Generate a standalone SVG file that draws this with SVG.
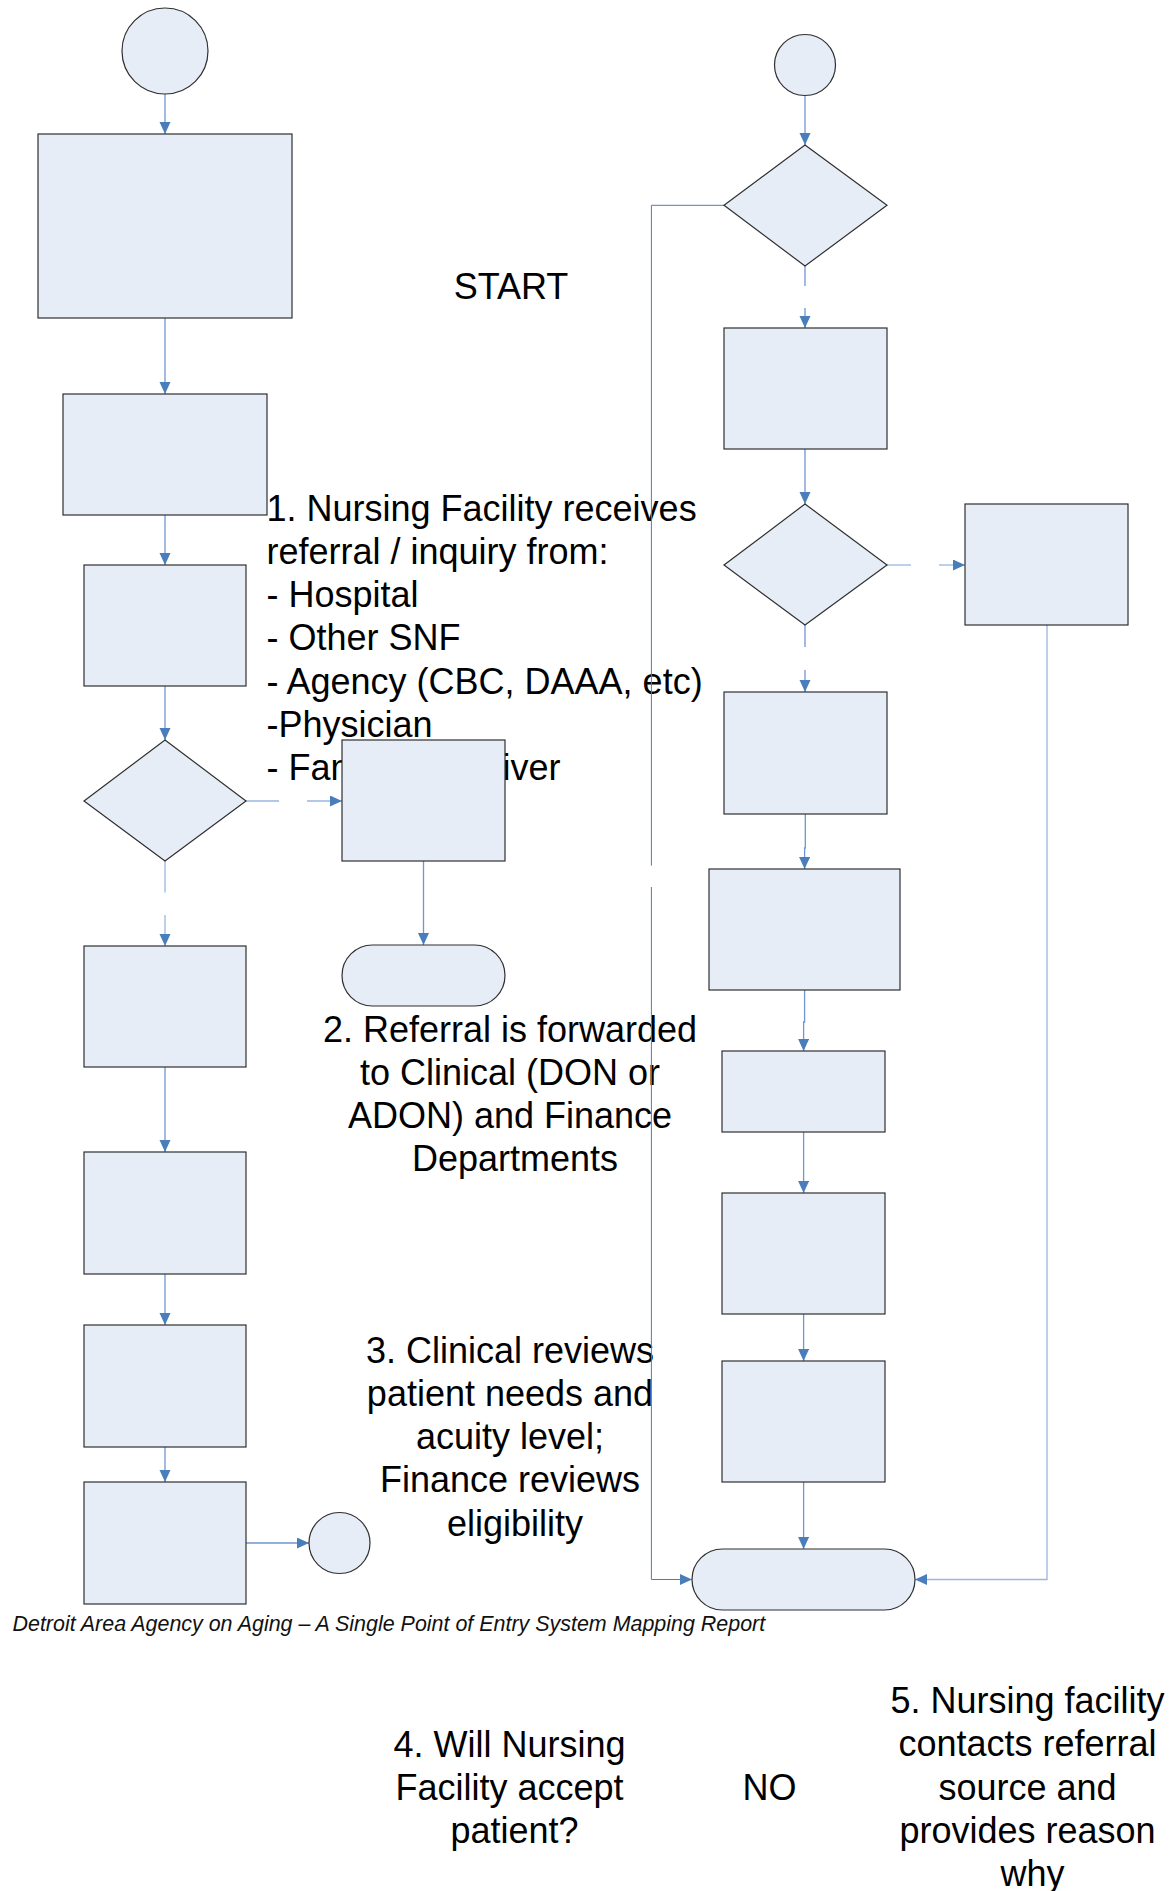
<svg xmlns="http://www.w3.org/2000/svg" width="1172" height="1891" viewBox="0 0 1172 1891">
  <defs>
    <marker id="arrow" markerUnits="userSpaceOnUse" markerWidth="12" markerHeight="12" refX="12" refY="5.5" orient="auto">
      <path d="M0,0 L12,5.5 L0,11 Z" fill="#4a7ebb"/>
    </marker>
    <style>
      .node { fill: #e7edf7; stroke: #2f2f2f; stroke-width: 1.2; }
      .conn { fill: none; stroke: #6f96d1; stroke-width: 1.3; }
      .conn-light { fill: none; stroke: #9ab6e0; stroke-width: 1.3; }
      .loop { fill: none; stroke: #4a7ebb; stroke-width: 1; }
      .lbl { font-family: "Liberation Sans", Arial, sans-serif; font-size: 36px; fill: #000; }
      .mid { text-anchor: middle; }
      .foot { font-family: "Liberation Sans", Arial, sans-serif; font-size: 21.45px; font-style: italic; fill: #111; }
    </style>
  </defs>
  <rect width="1172" height="1891" fill="#ffffff"/>

  <!-- step descriptions -->
  <g id="labels">
    <text class="lbl mid" x="511" y="299">START</text>
    <text class="lbl" x="266.5">
      <tspan x="266.5" y="520.5">1. Nursing Facility receives</tspan>
      <tspan x="266.5" y="563.75">referral / inquiry from:</tspan>
      <tspan x="266.5" y="607">- Hospital</tspan>
      <tspan x="266.5" y="650.25">- Other SNF</tspan>
      <tspan x="266.5" y="693.5">- Agency (CBC, DAAA, etc)</tspan>
      <tspan x="266.5" y="736.75">-Physician</tspan>
      <tspan x="266.5" y="780">- Family/Caregiver</tspan>
    </text>
    <text class="lbl mid">
      <tspan x="515" y="1042">2. Referral is forwarded</tspan>
      <tspan x="515" y="1085">to Clinical (DON or</tspan>
      <tspan x="515" y="1128">ADON) and Finance</tspan>
      <tspan x="515" y="1171">Departments</tspan>
    </text>
    <text class="lbl mid">
      <tspan x="515" y="1362.5">3. Clinical reviews</tspan>
      <tspan x="515" y="1405.75">patient needs and</tspan>
      <tspan x="515" y="1449">acuity level;</tspan>
      <tspan x="515" y="1492.25">Finance reviews</tspan>
      <tspan x="515" y="1535.5">eligibility</tspan>
    </text>
    <text class="foot" x="12.5" y="1631">Detroit Area Agency on Aging – A Single Point of Entry System Mapping Report</text>
    <text class="lbl mid">
      <tspan x="514.5" y="1756.5">4. Will Nursing</tspan>
      <tspan x="514.5" y="1799.75">Facility accept</tspan>
      <tspan x="514.5" y="1843">patient?</tspan>
    </text>
    <text class="lbl mid" x="769.5" y="1799.5">NO</text>
    <text class="lbl mid">
      <tspan x="1032.5" y="1713">5. Nursing facility</tspan>
      <tspan x="1032.5" y="1756.25">contacts referral</tspan>
      <tspan x="1032.5" y="1799.5">source and</tspan>
      <tspan x="1032.5" y="1842.75">provides reason</tspan>
      <tspan x="1032.5" y="1886">why</tspan>
    </text>
  </g>

  <!-- connectors -->
  <g id="connectors">
    <!-- left column -->
    <line class="conn" x1="165" y1="94" x2="165" y2="134" marker-end="url(#arrow)"/>
    <line class="conn" x1="165" y1="318" x2="165" y2="394" marker-end="url(#arrow)"/>
    <line class="conn" x1="165" y1="515" x2="165" y2="565" marker-end="url(#arrow)"/>
    <line class="conn" x1="165" y1="686" x2="165" y2="740" marker-end="url(#arrow)"/>
    <line class="conn-light" x1="246" y1="801" x2="279" y2="801"/>
    <line class="conn-light" x1="307" y1="801" x2="342" y2="801" marker-end="url(#arrow)"/>
    <line class="conn-light" x1="165" y1="861" x2="165" y2="892.5"/>
    <line class="conn-light" x1="165" y1="915" x2="165" y2="946" marker-end="url(#arrow)"/>
    <line class="conn" x1="423.5" y1="861" x2="423.5" y2="945" marker-end="url(#arrow)"/>
    <line class="conn" x1="165" y1="1067" x2="165" y2="1152" marker-end="url(#arrow)"/>
    <line class="conn" x1="165" y1="1274" x2="165" y2="1325" marker-end="url(#arrow)"/>
    <line class="conn" x1="165" y1="1447" x2="165" y2="1482" marker-end="url(#arrow)"/>
    <line class="conn" x1="246" y1="1543" x2="309" y2="1543" marker-end="url(#arrow)"/>
    <!-- right column -->
    <line class="conn" x1="805" y1="95.5" x2="805" y2="145" marker-end="url(#arrow)"/>
    <line class="conn" x1="805" y1="266" x2="805" y2="286"/>
    <line class="conn" x1="805" y1="308" x2="805" y2="328" marker-end="url(#arrow)"/>
    <line class="conn" x1="805" y1="449" x2="805" y2="504" marker-end="url(#arrow)"/>
    <line class="conn-light" x1="887" y1="565" x2="911" y2="565"/>
    <line class="conn-light" x1="939" y1="565" x2="965" y2="565" marker-end="url(#arrow)"/>
    <line class="conn" x1="805" y1="625" x2="805" y2="647"/>
    <line class="conn" x1="805" y1="670" x2="805" y2="692" marker-end="url(#arrow)"/>
    <path class="conn" d="M805.3,814 V848 H804.6 V869" marker-end="url(#arrow)"/>
    <path class="conn" d="M804.6,990 V1022 H803.6 V1051" marker-end="url(#arrow)"/>
    <line class="conn" x1="803.6" y1="1132" x2="803.6" y2="1193" marker-end="url(#arrow)"/>
    <line class="conn" x1="803.6" y1="1314" x2="803.6" y2="1361" marker-end="url(#arrow)"/>
    <line class="conn" x1="803.6" y1="1482" x2="803.6" y2="1549" marker-end="url(#arrow)"/>
    <!-- return paths into the end terminator -->
    <path class="loop" d="M724,205.3 H651.4 V865.7"/>
    <path class="loop" d="M651.4,887 V1579.5 H692" marker-end="url(#arrow)"/>
    <path class="conn-light" d="M1047,625 V1579.5 H915" marker-end="url(#arrow)"/>
  </g>

  <!-- left column nodes -->
  <g id="start-circle"><circle class="node" cx="165" cy="51" r="43"/></g>
  <g id="box-1"><rect class="node" x="38" y="134" width="254" height="184"/></g>
  <g id="box-2"><rect class="node" x="63" y="394" width="204" height="121"/></g>
  <g id="box-3"><rect class="node" x="84" y="565" width="162" height="121"/></g>
  <g id="decision-1"><polygon class="node" points="165,740 246,801 165,861 84,801"/></g>
  <g id="box-4"><rect class="node" x="342" y="740" width="163" height="121"/></g>
  <g id="terminator-1"><rect class="node" x="342" y="945" width="163" height="61" rx="30.5" ry="30.5"/></g>
  <g id="box-5"><rect class="node" x="84" y="946" width="162" height="121"/></g>
  <g id="box-6"><rect class="node" x="84" y="1152" width="162" height="122"/></g>
  <g id="box-7"><rect class="node" x="84" y="1325" width="162" height="122"/></g>
  <g id="box-8"><rect class="node" x="84" y="1482" width="162" height="122"/></g>
  <g id="connector-circle"><circle class="node" cx="339.5" cy="1543" r="30.5"/></g>

  <!-- right column nodes -->
  <g id="entry-circle"><circle class="node" cx="805" cy="65" r="30.5"/></g>
  <g id="decision-a"><polygon class="node" points="805,145 887,205.3 805,266 724,205.3"/></g>
  <g id="box-b"><rect class="node" x="724" y="328" width="163" height="121"/></g>
  <g id="decision-b"><polygon class="node" points="805,504 887,565 805,625 724,565"/></g>
  <g id="box-c"><rect class="node" x="965" y="504" width="163" height="121"/></g>
  <g id="box-d"><rect class="node" x="724" y="692" width="163" height="122"/></g>
  <g id="box-e"><rect class="node" x="709" y="869" width="191" height="121"/></g>
  <g id="box-f"><rect class="node" x="722" y="1051" width="163" height="81"/></g>
  <g id="box-g"><rect class="node" x="722" y="1193" width="163" height="121"/></g>
  <g id="box-h"><rect class="node" x="722" y="1361" width="163" height="121"/></g>
  <g id="terminator-2"><rect class="node" x="692" y="1549" width="223" height="61" rx="30.5" ry="30.5"/></g>
</svg>
